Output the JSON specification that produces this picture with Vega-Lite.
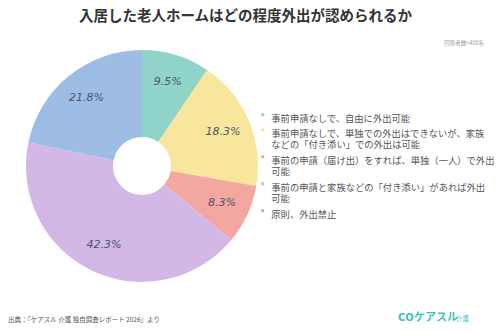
{
  "$schema": "https://vega.github.io/schema/vega-lite/v6.json",
  "autosize": {"type": "none"},
  "width": 284,
  "height": 232,
  "padding": {"left": 0, "top": 50, "right": 216, "bottom": 50},
  "background": "white",
  "config": {"view": {"stroke": null}, "font": "Noto Sans CJK JP"},
  "title": {
    "text": "入居した老人ホームはどの程度外出が認められるか",
    "anchor": "start",
    "frame": "group",
    "dx": 79,
    "offset": 17,
    "fontSize": 14.5,
    "fontWeight": "bold",
    "color": "#333333",
    "font": "Noto Sans CJK JP"
  },
  "data": {
    "values": [
      {"order": 1, "category": "事前申請なしで、自由に外出可能", "value": 9.5, "label": "9.5%"},
      {"order": 2, "category": "事前申請なしで、単独での外出はできないが、家族|などの「付き添い」での外出は可能", "value": 18.3, "label": "18.3%"},
      {"order": 3, "category": "事前の申請（届け出）をすれば、単独（一人）で外出|可能", "value": 8.3, "label": "8.3%"},
      {"order": 4, "category": "事前の申請と家族などの「付き添い」があれば外出|可能", "value": 42.3, "label": "42.3%"},
      {"order": 5, "category": "原則、外出禁止", "value": 21.8, "label": "21.8%"}
    ]
  },
  "layer": [
    {
      "mark": {"type": "arc", "innerRadius": 29, "outerRadius": 116},
      "encoding": {
        "theta": {"field": "value", "type": "quantitative", "stack": true},
        "order": {"field": "order", "type": "quantitative"},
        "color": {
          "field": "category",
          "type": "nominal",
          "sort": {"field": "order"},
          "scale": {
            "domain": [
              "事前申請なしで、自由に外出可能",
              "事前申請なしで、単独での外出はできないが、家族|などの「付き添い」での外出は可能",
              "事前の申請（届け出）をすれば、単独（一人）で外出|可能",
              "事前の申請と家族などの「付き添い」があれば外出|可能",
              "原則、外出禁止"
            ],
            "range": ["#8fd3c9", "#f8e69d", "#f4a6a1", "#d3b7e6", "#9ebde5"]
          },
          "legend": {
            "orient": "none",
            "legendX": 258,
            "legendY": 60,
            "title": null,
            "symbolType": "circle",
            "symbolSize": 12,
            "symbolStrokeWidth": 0,
            "labelFontSize": 9.3,
            "labelLineHeight": 12.5,
            "labelFont": "Noto Sans CJK JP",
            "labelColor": "#555555",
            "labelLimit": 300,
            "labelOffset": 4,
            "rowPadding": 1,
            "labelBaseline": "top",
            "labelExpr": "split(datum.label, '|')"
          }
        }
      }
    },
    {
      "mark": {"type": "text", "radius": 88, "fontSize": 11, "fontStyle": "italic", "color": "#4a5566", "font": "DejaVu Sans"},
      "encoding": {
        "theta": {"field": "value", "type": "quantitative", "stack": true},
        "order": {"field": "order", "type": "quantitative"},
        "text": {"field": "label"}
      }
    },
    {
      "data": {"values": [{"t": "回答者数=400名"}]},
      "mark": {"type": "text", "align": "right", "baseline": "middle", "fontSize": 5.5, "color": "#999999", "x": 484, "y": -7},
      "encoding": {"text": {"field": "t"}}
    },
    {
      "data": {"values": [{"t": "出典：『ケアスル 介護 独自調査レポート 2026』より"}]},
      "mark": {"type": "text", "align": "left", "baseline": "middle", "fontSize": 6.5, "color": "#555555", "x": 8, "y": 270},
      "encoding": {"text": {"field": "t"}}
    },
    {
      "data": {"values": [{"t": "CO"}]},
      "mark": {"type": "text", "align": "left", "baseline": "middle", "fontSize": 10, "fontWeight": "bold", "color": "#3fbfbf", "x": 398, "y": 268, "font": "DejaVu Sans"},
      "encoding": {"text": {"field": "t"}}
    },
    {
      "data": {"values": [{"t": "ケアスル"}]},
      "mark": {"type": "text", "align": "left", "baseline": "middle", "fontSize": 11, "fontWeight": "bold", "color": "#3fbfbf", "x": 414, "y": 268},
      "encoding": {"text": {"field": "t"}}
    },
    {
      "data": {"values": [{"t": "介護"}]},
      "mark": {"type": "text", "align": "left", "baseline": "middle", "fontSize": 6.5, "color": "#3fbfbf", "x": 456, "y": 269},
      "encoding": {"text": {"field": "t"}}
    }
  ]
}
